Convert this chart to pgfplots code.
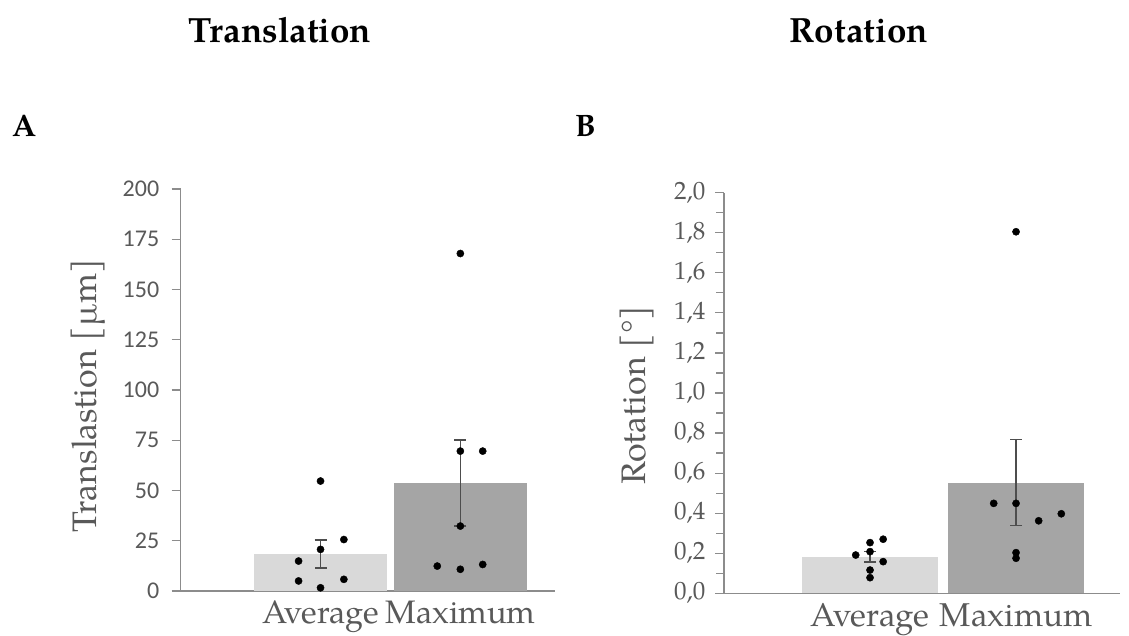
\documentclass[border=0pt]{standalone}
\usepackage{fontspec}
\setmainfont{texgyrepagella}[Extension=.otf, UprightFont=*-regular, BoldFont=*-bold, ItalicFont=*-italic, BoldItalicFont=*-bolditalic]
\newfontfamily\carlito{Carlito}
\usepackage{pgfplots}
\pgfplotsset{compat=1.18}

\definecolor{avgfill}{HTML}{D9D9D9}
\definecolor{maxfill}{HTML}{A5A5A5}
\definecolor{axgray}{HTML}{8C8C8C}
\definecolor{txtgray}{HTML}{595959}
\definecolor{errgray}{HTML}{4D4D4D}

\pgfplotsset{
  panel/.style={
    scale only axis,
    anchor=south west,
    ymin=0, xmin=0,
    axis x line=bottom, axis y line=left,
    axis line style={-, draw=axgray, line width=1.5pt},
    xtick={1,2}, xticklabels={Average,Maximum},
    x tick style={draw=none},
    tick align=outside,
    major tick length=9pt,
    minor tick length=8pt,
    y tick style={draw=axgray, line width=1.2pt},
    /pgf/number format/assume math mode=true,
    clip=false,
  },
  errs/.style={draw=none, mark=none, forget plot,
    error bars/.cd, y dir=both, y explicit,
    error bar style={draw=errgray, line width=1.2pt},
    error mark=|,
    error mark options={draw=errgray, line width=1.2pt, mark size=6pt}},
  dots/.style={only marks, mark=*, mark size=3.6pt, black},
}

\begin{document}
\begin{tikzpicture}[x=1pt,y=1pt]
\path[use as bounding box] (0,0) rectangle (1129,636);

% titles and panel letters
\node[anchor=base, font=\bfseries\fontsize{35}{40}\selectfont] at (280,593.3) {Translation};
\node[anchor=base, font=\bfseries\fontsize{35}{40}\selectfont] at (859,593.3) {Rotation};
\node[anchor=base west, inner sep=0pt, font=\bfseries\fontsize{31}{36}\selectfont] at (12,499) {A};
\node[anchor=base west, inner sep=0pt, font=\bfseries\fontsize{31}{36}\selectfont] at (575,499) {B};

% y labels
\node[rotate=90, text=txtgray, font=\fontsize{34}{40}\selectfont] at (88,240) {Translastion [µm]};
\node[rotate=90, text=txtgray, font=\fontsize{34}{40}\selectfont] at (637,241) {Rotation [°]};

% A: translation
\begin{axis}[panel,
  at={(180.7pt,45pt)}, width=374.3pt, height=402pt,
  xmax=2.677, ymax=200,
  ytick={0,25,50,75,100,125,150,175,200},
  yticklabel style={font=\carlito\fontsize{24}{28}\selectfont, text=txtgray, xshift=-9pt},
  xticklabel style={font=\fontsize{32.5}{38}\selectfont, text=txtgray, anchor=base, inner sep=0pt, yshift=-24pt},
]
\addplot[ybar, bar shift=0pt, bar width=0.95, fill=avgfill, draw=none] coordinates {(1,18.4)};
\addplot[ybar, bar shift=0pt, bar width=0.95, fill=maxfill, draw=none] coordinates {(2,53.7)};
\addplot[errs] coordinates {(1,18.4) +- (0,7.0) (2,53.7) +- (0,21.4)};
\addplot[dots] coordinates {
  (1,54.7) (1.167,25.6) (1,20.7) (0.843,14.9) (0.843,5.0) (1.167,5.8) (1,1.6)
};
\addplot[dots] coordinates {
  (2,167.9) (2,69.6) (2.16,69.6) (2,32.3) (1.835,12.4) (2,10.8) (2.16,13.2)
};
\end{axis}

% B: rotation
\begin{axis}[panel,
  at={(724pt,42.7pt)}, width=396pt, height=400.6pt,
  xmax=2.712, ymax=2,
  ytick={0,0.2,0.4,0.6,0.8,1.0,1.2,1.4,1.6,1.8,2.0},
  minor y tick num=1,
  minor y tick style={draw=axgray, line width=1.2pt},
  yticklabel style={font=\rmfamily\fontsize{25}{30}\selectfont, text=txtgray, xshift=-6pt,
    /pgf/number format/.cd, fixed, fixed zerofill, precision=1, use comma},
  xticklabel style={font=\fontsize{33}{38}\selectfont, text=txtgray, anchor=base, inner sep=0pt, yshift=-24pt},
]
\addplot[ybar, bar shift=0pt, bar width=0.93, fill=avgfill, draw=none] coordinates {(1,0.183)};
\addplot[ybar, bar shift=0pt, bar width=0.93, fill=maxfill, draw=none] coordinates {(2,0.552)};
\addplot[errs] coordinates {(1,0.183) +- (0,0.027) (2,0.552) +- (0,0.214)};
\addplot[dots] coordinates {
  (1,0.253) (1.09,0.27) (1,0.208) (0.902,0.191) (1.09,0.158) (1,0.116) (1,0.078)
};
\addplot[dots] coordinates {
  (2,1.805) (1.847,0.449) (2,0.449) (2.155,0.362) (2.31,0.397) (2,0.203) (2,0.175)
};
\end{axis}
\end{tikzpicture}
\end{document}
